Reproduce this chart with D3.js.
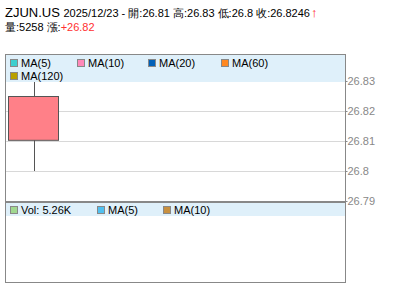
<!DOCTYPE html>
<html>
<head>
<meta charset="utf-8">
<script src="https://cdn.jsdelivr.net/npm/d3@7"></script>
<style>
  body { margin: 0; background: #fff; }
  svg text { font-family: "Liberation Sans", Arial, sans-serif; }
</style>
</head>
<body>
<div id="chart"></div>
<script>
// data
var symbol = "ZJUN.US";
var dates = ["2025/12/23"];
var opens = [26.81];
var highs = [26.83];
var lows = [26.8];
var closes = [26.8246];
var volumes = [5258];
var change = "+26.82";
var priceTicks = [26.83, 26.82, 26.81, 26.8, 26.79];
var maLegend = ["MA(5)", "MA(10)", "MA(20)", "MA(60)", "MA(120)"];
var maColors = ["#3ccfcf", "#ff88b8", "#0060b8", "#ff8820", "#b8a000"];
var volLegend = ["Vol: 5.26K", "MA(5)", "MA(10)"];
var volColors = ["#a0d890", "#50c0f0", "#c89040"];

var W = 400, H = 301;
var svg = d3.select("#chart").append("svg")
    .attr("width", W)
    .attr("height", H);

var left = 5, right = 345;
var mainTop = 54, mainBot = 202, volBot = 282;

// header
var h1 = svg.append("text").attr("x", 5).attr("y", 17).attr("fill", "#000");
h1.append("tspan").attr("font-size", 13).text(symbol + " ");
h1.append("tspan").attr("font-size", 11)
    .text(dates[0] + " - 開:" + opens[0] + " 高:" + highs[0] + " 低:" + lows[0] + " 收:" + closes[0]);
h1.append("tspan").attr("font-size", 13).attr("fill", "#ff2020").attr("font-weight", "bold").attr("dx", 1).text("↑");

var h2 = svg.append("text").attr("x", 5).attr("y", 31).attr("font-size", 11).attr("fill", "#000");
h2.append("tspan").text("量:" + volumes[0] + " 漲:");
h2.append("tspan").attr("fill", "#ff3030").text(change);

// scales
var x = d3.scaleBand().domain(dates).range([left + 3, left + 54]).padding(0);
var y = d3.scaleLinear().domain([26.79, 26.83]).range([201, 81]);

// grid lines
svg.selectAll(".grid")
    .data(priceTicks.slice(1, 4))
    .enter().append("line")
    .attr("class", "grid")
    .attr("x1", left).attr("x2", right)
    .attr("y1", function(d) { return Math.round(y(d)) + 0.5; })
    .attr("y2", function(d) { return Math.round(y(d)) + 0.5; })
    .attr("stroke", "#d8d8d8");

// candle
var candle = svg.selectAll(".candle")
    .data(dates)
    .enter().append("g")
    .attr("class", "candle");

candle.append("line")
    .attr("x1", function(d) { return Math.round(x(d) + x.bandwidth() / 2) + 0.5; })
    .attr("x2", function(d) { return Math.round(x(d) + x.bandwidth() / 2) + 0.5; })
    .attr("y1", function(d, i) { return y(highs[i]); })
    .attr("y2", function(d, i) { return y(lows[i]); })
    .attr("stroke", "#555");

candle.append("rect")
    .attr("x", function(d) { return x(d) + 0.5; })
    .attr("width", x.bandwidth() - 1)
    .attr("y", function(d, i) { return Math.round(y(Math.max(opens[i], closes[i]))) - 0.5; })
    .attr("height", function(d, i) { return Math.abs(y(opens[i]) - y(closes[i])); })
    .attr("fill", "#ff8088")
    .attr("stroke", "#555");

// main legend band
svg.append("rect")
    .attr("x", left + 1).attr("y", mainTop + 1)
    .attr("width", right - left - 1).attr("height", 27)
    .attr("fill", "#dff0fa");

var legPos = [[10, 63], [77, 63], [148, 63], [221, 63], [10, 76]];
var leg = svg.selectAll(".leg")
    .data(maLegend)
    .enter().append("g")
    .attr("class", "leg")
    .attr("transform", function(d, i) { return "translate(" + legPos[i][0] + "," + legPos[i][1] + ")"; });
leg.append("rect")
    .attr("x", 0.5).attr("y", -3.5).attr("width", 7).attr("height", 7)
    .attr("fill", function(d, i) { return maColors[i]; })
    .attr("stroke", "#888");
leg.append("text")
    .attr("x", 11).attr("y", 4)
    .attr("font-size", 11)
    .attr("fill", "#000")
    .text(function(d) { return d; });

// main frame
svg.append("rect")
    .attr("x", left + 0.5).attr("y", mainTop + 0.5)
    .attr("width", right - left).attr("height", mainBot - mainTop)
    .attr("fill", "none").attr("stroke", "#888");

// price axis
var axis = svg.append("g")
    .attr("transform", "translate(" + (right + 0.5) + ",0)")
    .call(d3.axisRight(y).tickValues(priceTicks).tickSize(2).tickFormat(d3.format("")));
axis.select(".domain").remove();
axis.selectAll("line").attr("stroke", "#888");
axis.selectAll("text")
    .attr("font-size", 11)
    .attr("fill", "#888")
    .attr("x", 2)
    .attr("font-family", "\"Liberation Sans\", Arial, sans-serif");

// volume panel
svg.append("rect")
    .attr("x", left + 1).attr("y", mainBot + 1)
    .attr("width", right - left - 1).attr("height", 13)
    .attr("fill", "#dff0fa");

var vx = [10, 97, 163];
var vleg = svg.selectAll(".vleg")
    .data(volLegend)
    .enter().append("g")
    .attr("class", "vleg")
    .attr("transform", function(d, i) { return "translate(" + vx[i] + ",210)"; });
vleg.append("rect")
    .attr("x", 0.5).attr("y", -3.5).attr("width", 7).attr("height", 7)
    .attr("fill", function(d, i) { return volColors[i]; })
    .attr("stroke", "#888");
vleg.append("text")
    .attr("x", 11).attr("y", 4)
    .attr("font-size", 11)
    .attr("fill", "#000")
    .text(function(d) { return d; });

svg.append("rect")
    .attr("x", left + 0.5).attr("y", mainBot + 0.5)
    .attr("width", right - left).attr("height", volBot - mainBot)
    .attr("fill", "none").attr("stroke", "#888");

// thicker separator
svg.append("line")
    .attr("x1", left).attr("x2", right + 1)
    .attr("y1", mainBot).attr("y2", mainBot)
    .attr("stroke", "#888").attr("stroke-width", 2);
</script>
</body>
</html>
